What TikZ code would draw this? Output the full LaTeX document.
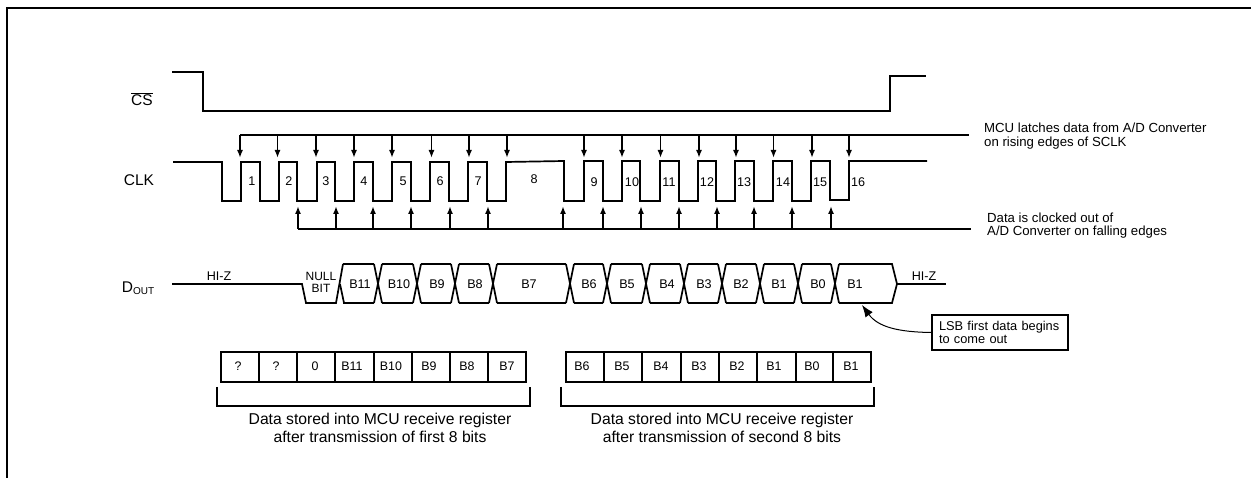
\documentclass[tikz,border=0pt]{standalone}
\usepackage{fontspec}
\setmainfont{Liberation Sans}
\usetikzlibrary{arrows.meta}
\tikzset{
  wave/.style={line width=1.7pt,line join=miter,line cap=butt},
  tickarrow/.style={line width=1.7pt,-{Latex[length=8pt,width=6pt]}},
  sig/.style={font=\fontsize{15.5}{18}\selectfont,inner sep=0pt},
  smalltext/.style={font=\fontsize{12.6}{12}\selectfont,inner sep=0pt},
  notetext/.style={font=\fontsize{13.2}{14}\selectfont,inner sep=0pt,align=left,anchor=west},
  captext/.style={font=\fontsize{15.7}{18}\selectfont,inner sep=0pt,align=center},
  celltext/.style={font=\fontsize{12.4}{12}\selectfont,inner sep=0pt},
}
\begin{document}
\begin{tikzpicture}[x=1pt,y=-1pt]
\useasboundingbox (0,0) rectangle (1251,478);
% outer frame
\draw[line width=2pt] (7,478) -- (7,8) -- (1251,8);
% signal names
\node[sig] (cs) at (142,99) {$\overline{\mbox{CS}}$};
\node[sig] (clk) at (139,180) {CLK};
\node[sig] (dout) at (138,288) {D\raisebox{-2.5pt}{\fontsize{10}{10}\selectfont OUT}};
% CS
\draw[wave] (172,72) -- (203,72) -- (203,111) -- (890,111) -- (890,76) -- (926,76);
% CLK
\draw[wave] (173,162) \foreach \f/\r/\h in {222/241/162,260/279/162,297/317/162,335/354/162,373/392/162,411/430/162,449/468/162,487/506/162,564/584/161,603/622/161,640/660/161,679/698/161,716/735/161,754/773/161,792/811/161} { -- (\f,\h) -- (\f,201) -- (\r,201) -- (\r,\h) } -- (830,161) -- (830,200) -- (849,200) -- (849,161) -- (927,161);
\foreach \t/\x/\y in {1/252/181,2/289/181,3/326/181,4/364/181,5/403/181,6/440/181,7/478/181,8/534/179,9/594/182,10/632/182,11/669/182,12/707/182,13/744/182,14/783/182,15/820/182,16/858/182}
  \node[smalltext] (n\t) at (\x,\y) {\t};
% top bus
\coordinate (tb0) at (240,135);
\coordinate (tb1) at (969,135);
\draw[wave] (tb0) -- (tb1);
\foreach \x in {240,277.5,316,354,392,431.5,469,507,584,622,660.5,699,736,773.5,812,849}
  \draw[tickarrow] (\x,135) -- (\x,158);
% bottom bus
\coordinate (bb0) at (297.5,229);
\coordinate (bb1) at (971,229);
\draw[wave] (bb0) -- (bb1);
\foreach \x in {298,336,373,411,450,488,563,603,641,679,717,754,792,831}
  \draw[tickarrow] (\x,229) -- (\x,206);
% notes
\node[notetext] (mcu) at (984,136) {MCU latches data from A/D Converter\\on rising edges of SCLK};
\node[notetext,font=\fontsize{13.2}{13}\selectfont] (data) at (987,225.5) {Data is clocked out of\\A/D Converter on falling edges};
% DOUT
\draw[wave] (172,284) -- (302,284) -- (306,303) -- (336,303) -- (343,264);
\draw[wave] (340,284) -- (344,303);
\foreach \a/\b in {339/378,378/417,417/455,455/493,493/570,570/607,607/646,646/684,684/722,722/760,760/798,798/835} {
  \draw[wave] (\a+4,264) -- (\b-4,264);
  \draw[wave] (\a+4,303) -- (\b-4,303);
  \draw[wave] (\b-4,303) -- (\b+4,264);
  \draw[wave] (\b-4,264) -- (\b+4,303);
}
\draw[wave] (839,264) -- (892,264) -- (897,284) -- (892,303) -- (839,303);
\draw[wave] (897,284) -- (946,284);
\node[smalltext] (hiz1) at (219,276) {HI-Z};
\node[smalltext] (hiz2) at (924,276) {HI-Z};
\node[smalltext,font=\fontsize{12}{12}\selectfont] (nullbit) at (321,276) {NULL};
\node[smalltext,font=\fontsize{12}{12}\selectfont] (bit) at (321,288.5) {BIT};
\foreach \t/\x/\i in {B11/360/a,B10/399/b,B9/437/c,B8/475/d,B7/529/e,B6/589/f,B5/627/g,B4/667/h,B3/704/i,B2/741/j,B1/779/k,B0/818/l,B1/855/m}
  \node[smalltext] (bus\i) at (\x,284) {\t};
% registers
\draw[wave] (221,352) rectangle (526,382);
\foreach \x in {259,297,335,374,412,450,488}
  \draw[wave] (\x,352) -- (\x,382);
\draw[wave] (566,352) rectangle (871,382);
\foreach \x in {604,642,681,719,757,796,833}
  \draw[wave] (\x,352) -- (\x,382);
\foreach \t/\x/\i in {?/238/a,?/276/b,0/315/c,B11/352/d,B10/391/e,B9/429/f,B8/467/g,B7/507/h,B6/582/i,B5/622/j,B4/661/k,B3/699/l,B2/737/m,B1/774/n,B0/812/o,B1/851/p}
  \node[celltext] (cell\i) at (\x,366.5) {\t};
% brackets
\draw[wave] (217,387) -- (217,406) -- (530,406) -- (530,387);
\draw[wave] (561,387) -- (561,406) -- (874,406) -- (874,387);
\node[captext] (cap1) at (380,428) {Data stored into MCU receive register\\after transmission of first 8 bits};
\node[captext] (cap2) at (722,428) {Data stored into MCU receive register\\after transmission of second 8 bits};
% callout
\node[draw,line width=1.7pt,minimum width=136pt,minimum height=35pt,text width=122pt,inner xsep=7pt,inner ysep=0pt,align=left,font=\fontsize{12.8}{13}\selectfont] (lsb) at (1000,332.5) {\mbox{LSB first data begins}\\to come out};
\coordinate (tip) at (862,305);
\draw[line width=1pt,-{Latex[length=12pt,width=9pt]}] (lsb.west) .. controls (898,332) and (878,327) .. (tip);
\end{tikzpicture}
\end{document}
